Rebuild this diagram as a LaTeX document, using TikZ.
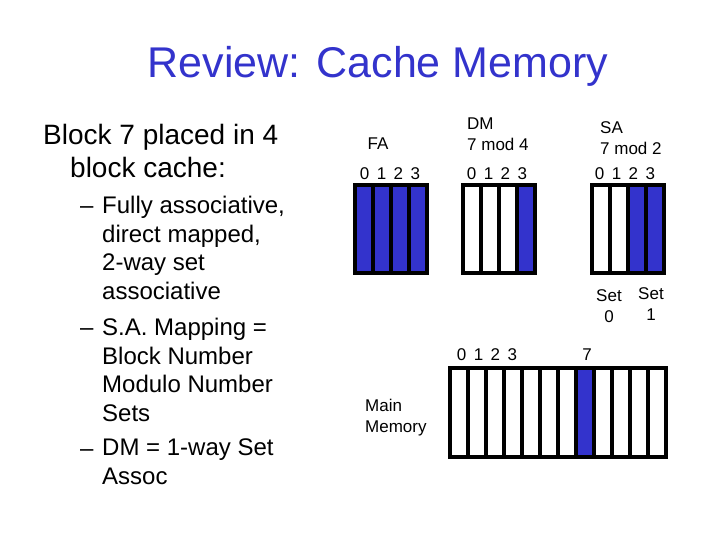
\documentclass[tikz,border=0pt]{standalone}
\usepackage{fontspec}
\setmainfont{Liberation Sans}
\usetikzlibrary{positioning}
\definecolor{blockblue}{RGB}{51,51,204}

\begin{document}
\begin{tikzpicture}[x=1pt, y=-1pt,
    slot/.style={draw, line width=3.1pt, fill=white, minimum width=18pt,
      minimum height=88pt, inner sep=0pt, outer sep=0pt},
    used/.style={fill=blockblue},
    lbl/.style={font=\fontsize{17}{21}\selectfont, align=left, inner sep=0pt},
    nums/.style={font=\fontsize{17}{21}\selectfont, inner sep=0pt,
      execute at begin node={\spaceskip=7.5pt\relax}},
    sub/.style={font=\fontsize{24}{28.5}\selectfont, align=left,
      anchor=north west, inner sep=0pt}
  ]
    \useasboundingbox (0,0) rectangle (720,540);

    % title
    \node[text=blockblue, font=\fontsize{43}{50}\selectfont] (title) at (378,66) {Review: Cache Memory};

    % left column
    \node[font=\fontsize{28}{33}\selectfont, align=left, anchor=north west, inner sep=0pt]
      (intro) at (43,124) {Block 7 placed in 4\\\hspace{27pt}block cache:};
    \node[sub] (d1) at (80,196) {\vphantom{Fl}--};
    \node[sub] (d2) at (80,318) {\vphantom{Fl}--};
    \node[sub] (d3) at (80,439) {\vphantom{Fl}--};
    \node[sub] (fully) at (102,196) {Fully associative,\\direct mapped,\\2-way set\\associative};
    \node[sub] (samap) at (102,318) {S.A. Mapping =\\Block Number\\Modulo Number\\Sets};
    \node[sub] (dmset) at (102,439) {DM = 1-way Set\\Assoc};

    % fully associative cache
    \foreach \i in {0,...,3}
      \node[slot, used] (fa\i) at (364+18*\i,229) {};
    \node[lbl] (falbl) at (378,144) {FA};
    \node[nums] (fanum) at (390,174) {0 1 2 3};

    % direct mapped cache
    \foreach \i in {0,...,2}
      \node[slot] (dm\i) at (472+18*\i,229) {};
    \node[slot, used] (dm3) at (526,229) {};
    \node[lbl, anchor=west] (dmlbl) at (467,134) {DM\\7 mod 4};
    \node[nums] (dmnum) at (497,174) {0 1 2 3};

    % set associative cache
    \foreach \i in {0,1}
      \node[slot] (sa\i) at (601+18*\i,229) {};
    \foreach \i in {2,3}
      \node[slot, used] (sa\i) at (601+18*\i,229) {};
    \node[lbl, anchor=west] (salbl) at (600,138) {SA\\7 mod 2};
    \node[nums] (sanum) at (625,174) {0 1 2 3};
    \node[lbl, align=center] (set0) at (609,306) {Set\\0};
    \node[lbl, align=center] (set1) at (651,304) {Set\\1};

    % main memory
    \foreach \i in {0,...,11}
      \node[slot, minimum height=89pt] (mm\i) at (459+18*\i,412.5) {};
    \node[slot, used, minimum height=89pt] at (mm7) {};
    \node[nums] (mmnum) at (487,355) {0 1 2 3};
    \node[lbl] (mm7lbl) at (587,355) {7};
    \node[lbl, anchor=west] (mmlbl) at (365,418) {Main\\Memory};
\end{tikzpicture}
\end{document}
